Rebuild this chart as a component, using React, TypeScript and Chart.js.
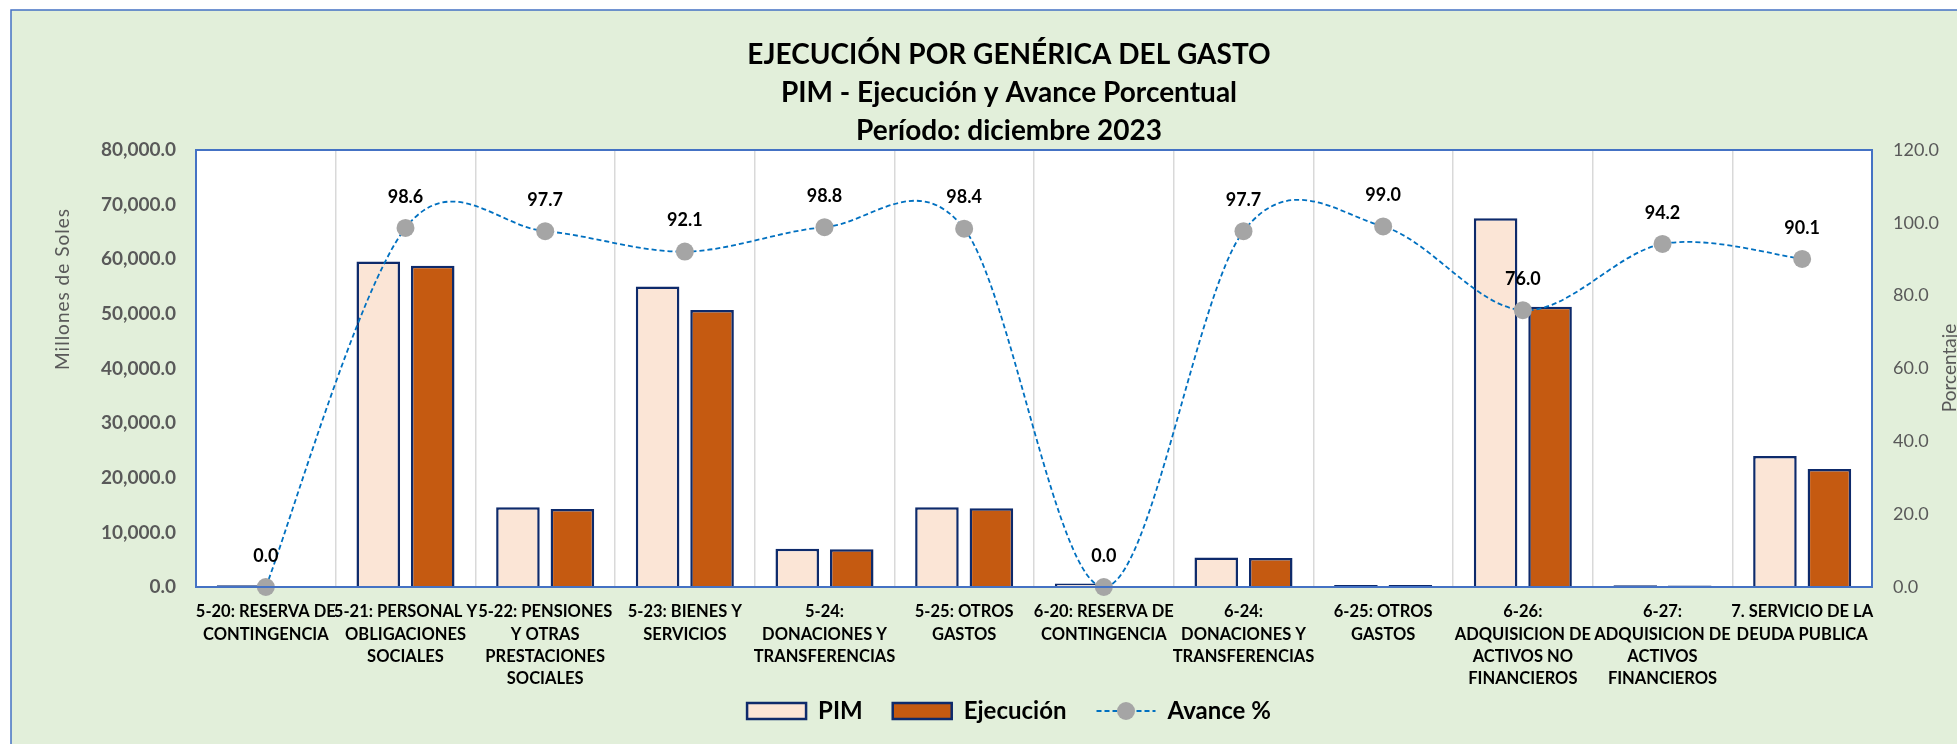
import React, { useEffect, useRef } from 'react';
import { Chart, registerables } from 'chart.js';

Chart.register(...registerables);

// ---------- data ----------
const CATEGORIES: string[][] = [
  ['5-20: RESERVA DE', 'CONTINGENCIA'],
  ['5-21: PERSONAL Y', 'OBLIGACIONES', 'SOCIALES'],
  ['5-22: PENSIONES', 'Y OTRAS', 'PRESTACIONES', 'SOCIALES'],
  ['5-23: BIENES Y', 'SERVICIOS'],
  ['5-24:', 'DONACIONES Y', 'TRANSFERENCIAS'],
  ['5-25: OTROS', 'GASTOS'],
  ['6-20: RESERVA DE', 'CONTINGENCIA'],
  ['6-24:', 'DONACIONES Y', 'TRANSFERENCIAS'],
  ['6-25: OTROS', 'GASTOS'],
  ['6-26:', 'ADQUISICION DE', 'ACTIVOS NO', 'FINANCIEROS'],
  ['6-27:', 'ADQUISICION DE', 'ACTIVOS', 'FINANCIEROS'],
  ['7. SERVICIO DE LA', 'DEUDA PUBLICA'],
];

const PIM = [300, 59600, 14600, 55000, 7000, 14600, 650, 5400, 350, 67500, 300, 24000];
const EJECUCION = [0, 58800, 14300, 50700, 6900, 14400, 0, 5300, 350, 51300, 280, 21600];
const AVANCE = [0.0, 98.6, 97.7, 92.1, 98.8, 98.4, 0.0, 97.7, 99.0, 76.0, 94.2, 90.1];

const TITLE_LINES = [
  'EJECUCIÓN POR GENÉRICA DEL GASTO',
  'PIM - Ejecución y Avance Porcentual',
  'Período: diciembre 2023',
];
const SERIES_NAMES = ['PIM', 'Ejecución', 'Avance %'];
const LEFT_AXIS_TITLE = 'Millones de Soles';
const RIGHT_AXIS_TITLE = 'Porcentaje';

const LEFT_MAX = 80000;
const LEFT_STEP = 10000;
const RIGHT_MAX = 120;
const RIGHT_STEP = 20;

// ---------- layout / style ----------
const W = 2018;
const H = 744;
const FONT = "Lato, 'Open Sans', sans-serif";
const BG_GREEN = '#E2EFDA';
const FRAME_BLUE = '#4472C4';
const BAR_BORDER = '#0E2A6B';
const PIM_FILL = '#FBE5D6';
const EJEC_FILL = '#C55A11';
const LINE_BLUE = '#0070C0';
const POINT_GREY = '#A5A5A5';
const AXIS_GREY = '#595959';

const backgroundPlugin = {
  id: 'bgFrame',
  beforeDraw(chart: any) {
    const { ctx, chartArea } = chart;
    // let the multi-line category labels overflow the axis box (as in the original)
    if (chart.scales && chart.scales.x) {
      chart.scales.x._computeLabelArea = () => undefined;
    }
    ctx.save();
    ctx.fillStyle = '#FFFFFF';
    ctx.fillRect(0, 0, W, H);
    ctx.fillStyle = BG_GREEN;
    ctx.fillRect(11, 10, W - 22, H);
    ctx.strokeStyle = FRAME_BLUE;
    ctx.lineWidth = 1.5;
    ctx.beginPath();
    ctx.moveTo(11, H + 5);
    ctx.lineTo(11, 10);
    ctx.lineTo(W - 11, 10);
    ctx.lineTo(W - 11, H + 5);
    ctx.stroke();
    ctx.fillStyle = '#FFFFFF';
    ctx.fillRect(chartArea.left, chartArea.top, chartArea.right - chartArea.left, chartArea.bottom - chartArea.top);
    ctx.restore();
  },
};

const smoothPlugin = {
  id: 'excelSmooth',
  beforeDatasetDraw(chart: any, args: any) {
    const meta = args.meta;
    if (!meta || meta.type !== 'line') return;
    const line = meta.dataset;
    if (line && typeof line.updateControlPoints === 'function') {
      line.updateControlPoints(chart.chartArea, 'x');
    }
    const pts = meta.data;
    const n = pts.length;
    for (let i = 0; i < n; i++) {
      const p = pts[i];
      const prev = pts[Math.max(i - 1, 0)];
      const next = pts[Math.min(i + 1, n - 1)];
      const dx = (next.x - prev.x) / 6;
      const dy = (next.y - prev.y) / 6;
      p.cp1x = p.x - dx;
      p.cp1y = p.y - dy;
      p.cp2x = p.x + dx;
      p.cp2y = p.y + dy;
    }
    if (line) line._path = undefined;
  },
};

const overlayPlugin = {
  id: 'overlay',
  afterDatasetsDraw(chart: any) {
    const { ctx, chartArea } = chart;
    ctx.save();
    // plot frame
    ctx.strokeStyle = FRAME_BLUE;
    ctx.lineWidth = 2;
    ctx.strokeRect(chartArea.left, chartArea.top, chartArea.right - chartArea.left, chartArea.bottom - chartArea.top);
    // data labels of the line
    const meta = chart.getDatasetMeta(2);
    ctx.fillStyle = '#000000';
    ctx.font = `bold 18px ${FONT}`;
    ctx.textAlign = 'center';
    ctx.textBaseline = 'middle';
    meta.data.forEach((pt: any, i: number) => {
      ctx.fillText(AVANCE[i].toFixed(1), pt.x, pt.y - 31);
    });
    ctx.restore();
  },
  afterDraw(chart: any) {
    const { ctx } = chart;
    ctx.save();
    ctx.fillStyle = AXIS_GREY;
    ctx.font = `19px ${FONT}`;
    ctx.textAlign = 'center';
    ctx.textBaseline = 'middle';
    try { (ctx as any).letterSpacing = '1px'; } catch (e) {}
    ctx.save();
    ctx.translate(63, 289);
    ctx.rotate(-Math.PI / 2);
    ctx.fillText(LEFT_AXIS_TITLE, 0, 0);
    ctx.restore();
    try { (ctx as any).letterSpacing = '0px'; } catch (e) {}
    ctx.save();
    ctx.translate(1950, 368);
    ctx.rotate(-Math.PI / 2);
    ctx.fillText(RIGHT_AXIS_TITLE, 0, 0);
    ctx.restore();
    // legend marker for the line series
    const legend = chart.legend;
    if (legend && legend.legendHitBoxes && legend.legendHitBoxes[2]) {
      const hb = legend.legendHitBoxes[2];
      const bw = legend.options.labels.boxWidth;
      const cy = hb.top + 12;
      ctx.strokeStyle = LINE_BLUE;
      ctx.lineWidth = 1.8;
      ctx.setLineDash([5, 3]);
      ctx.beginPath();
      ctx.moveTo(hb.left, cy);
      ctx.lineTo(hb.left + bw, cy);
      ctx.stroke();
      ctx.setLineDash([]);
      ctx.fillStyle = POINT_GREY;
      ctx.beginPath();
      ctx.arc(hb.left + bw / 2, cy, 9, 0, Math.PI * 2);
      ctx.fill();
    }
    ctx.restore();
  },
};

export default function App() {
  const canvasRef = useRef<HTMLCanvasElement | null>(null);

  useEffect(() => {
    if (!canvasRef.current) return;
    Chart.defaults.font.family = FONT;

    const chart = new Chart(canvasRef.current, {
      type: 'bar',
      data: {
        labels: CATEGORIES,
        datasets: [
          {
            type: 'bar',
            label: SERIES_NAMES[0],
            data: PIM,
            backgroundColor: PIM_FILL,
            borderColor: BAR_BORDER,
            borderWidth: 2.5,
            yAxisID: 'y',
            categoryPercentage: 0.78,
            barPercentage: 0.8,
            order: 1,
          } as any,
          {
            type: 'bar',
            label: SERIES_NAMES[1],
            data: EJECUCION,
            backgroundColor: EJEC_FILL,
            borderColor: BAR_BORDER,
            borderWidth: 2.5,
            yAxisID: 'y',
            categoryPercentage: 0.78,
            barPercentage: 0.8,
            order: 1,
          } as any,
          {
            type: 'line',
            label: SERIES_NAMES[2],
            data: AVANCE,
            yAxisID: 'y1',
            borderColor: LINE_BLUE,
            borderWidth: 1.8,
            borderDash: [5, 3],
            backgroundColor: POINT_GREY,
            pointRadius: 9,
            pointBackgroundColor: POINT_GREY,
            pointBorderColor: POINT_GREY,
            pointBorderWidth: 0,
            tension: 0.4,
            fill: false,
            clip: false,
            order: 0,
          } as any,
        ],
      },
      options: {
        responsive: false,
        maintainAspectRatio: false,
        devicePixelRatio: 1,
        animation: false,
        events: [],
        layout: { padding: { left: 11, right: 11, top: 10, bottom: 11 } },
        plugins: {
          tooltip: { enabled: false },
          title: {
            display: true,
            text: TITLE_LINES,
            color: '#000000',
            font: { family: FONT, size: 28, weight: 'bold', lineHeight: 38 / 28 },
            padding: { top: 26, bottom: 0 },
          },
          legend: {
            display: true,
            position: 'bottom',
            labels: {
              color: '#000000',
              font: { family: FONT, size: 24, weight: 'bold' },
              boxWidth: 59,
              boxHeight: 16,
              padding: 30,
              generateLabels: (c: any) => {
                const items = (Chart.defaults.plugins.legend.labels as any).generateLabels(c);
                items.sort((a: any, b: any) => a.datasetIndex - b.datasetIndex);
                items.forEach((it: any) => {
                  if (it.datasetIndex === 2) {
                    it.fillStyle = 'rgba(0,0,0,0)';
                    it.strokeStyle = 'rgba(0,0,0,0)';
                    it.lineWidth = 0;
                    it.lineDash = [];
                  }
                });
                return items;
              },
            },
          },
        },
        scales: {
          x: {
            grid: { display: true, color: '#D9D9D9', lineWidth: 1.5, drawTicks: false, offset: true },
            border: { display: false },
            ticks: {
              color: '#000000',
              font: { family: FONT, size: 16.5, weight: 'bold', lineHeight: 22.3 / 16.5 },
              padding: 14,
              maxRotation: 0,
              minRotation: 0,
              autoSkip: false,
            },
            afterFit: (s: any) => { s.height = 82; },
          },
          y: {
            position: 'left',
            min: 0,
            max: LEFT_MAX,
            grid: { display: false, drawTicks: false },
            border: { display: false },
            ticks: {
              stepSize: LEFT_STEP,
              color: AXIS_GREY,
              padding: 20,
              font: { family: FONT, size: 19, weight: 'bold' },
              callback: (v: any) => Number(v).toLocaleString('en-US', { minimumFractionDigits: 1, maximumFractionDigits: 1 }),
            },
            afterFit: (s: any) => { s.width = 185; },
          },
          y1: {
            position: 'right',
            min: 0,
            max: RIGHT_MAX,
            grid: { display: false, drawTicks: false },
            border: { display: false },
            ticks: {
              stepSize: RIGHT_STEP,
              color: AXIS_GREY,
              padding: 21,
              font: { family: FONT, size: 18 },
              callback: (v: any) => Number(v).toFixed(1),
            },
            afterFit: (s: any) => { s.width = 135; },
          },
        },
      } as any,
      plugins: [backgroundPlugin, smoothPlugin, overlayPlugin],
    });

    return () => chart.destroy();
  }, []);

  return (
    <div style={{ position: 'absolute', left: 0, top: 0, width: 1957, height: 744, overflow: 'hidden', background: '#FFFFFF' }}>
      <canvas ref={canvasRef} width={W} height={H} style={{ display: 'block', width: W, height: H }} />
    </div>
  );
}
